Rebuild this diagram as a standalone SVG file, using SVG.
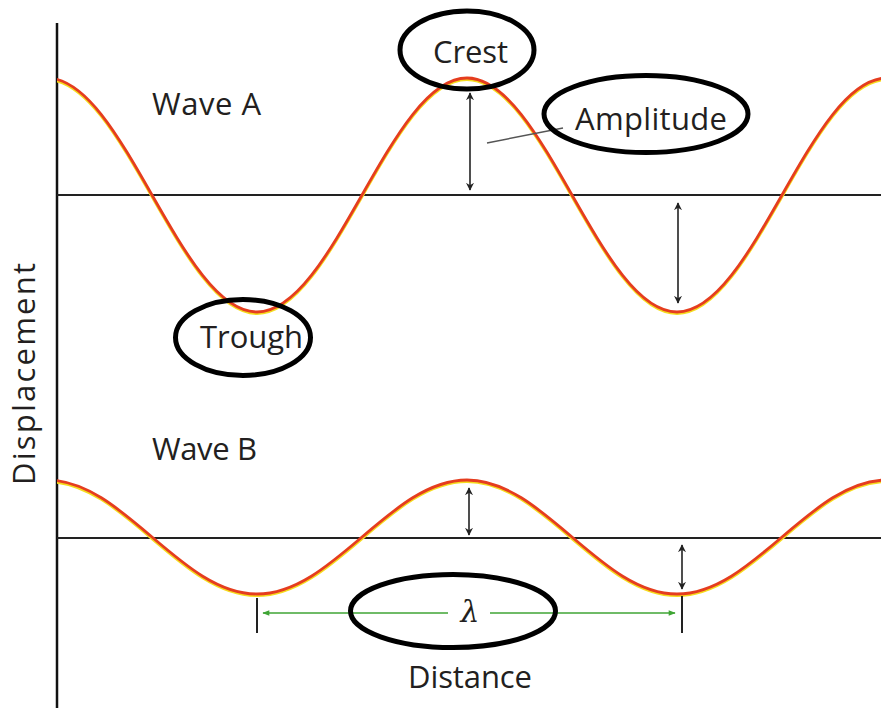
<svg xmlns="http://www.w3.org/2000/svg" width="881" height="708" viewBox="0 0 881 708">
  <style>
    .lbl { font-family: "Open Sans", "Noto Sans", "Liberation Sans", sans-serif; font-size: 31px; fill: #231f20; lengthAdjust: spacing; }
    .base { stroke: #222; stroke-width: 2; fill: none; }
    .wave-y { stroke: #f5dc1e; stroke-width: 3; fill: none; }
    .wave-r { stroke: #e53d1f; stroke-width: 2.8; fill: none; }
    .amp { stroke: #222; stroke-width: 1.6; fill: none; marker-start: url(#ah); marker-end: url(#ah); }
    .ring { stroke: #000; stroke-width: 5; fill: none; }
    .grn { stroke: #3fa535; stroke-width: 1.6; fill: none; }
    .tick { stroke: #222; stroke-width: 2; }
  </style>
  <defs>
    <marker id="ah" viewBox="0 0 10 10" refX="9" refY="5" markerWidth="8" markerHeight="8" markerUnits="userSpaceOnUse" orient="auto-start-reverse">
      <path d="M0,0 L10,5 L0,10 L3,5 Z" fill="#222"/>
    </marker>
    <marker id="gh" viewBox="0 0 10 10" refX="9" refY="5" markerWidth="9" markerHeight="7" markerUnits="userSpaceOnUse" orient="auto-start-reverse">
      <path d="M0,1 L10,5 L0,9 Z" fill="#3fa535"/>
    </marker>
    <clipPath id="plot"><rect x="57" y="0" width="824" height="708"/></clipPath>
  </defs>
  <rect width="881" height="708" fill="#fff"/>

  <g id="axes">
    <line x1="57" y1="23" x2="57" y2="708" stroke="#111" stroke-width="2.5"/>
    <line class="base" x1="57" y1="195" x2="881" y2="195"/>
    <line class="base" x1="57" y1="538" x2="881" y2="538"/>
  </g>

  <g id="waveA" clip-path="url(#plot)">
    <path class="wave-y" transform="translate(0,1.5)" d="M47,78 C123.5,78 180.5,312 257,312 C333.5,312 390.5,78 467,78 C543.5,78 600.5,312 677,312 C753.5,312 810.5,78 887,78"/>
    <path class="wave-r" d="M47,78 C123.5,78 180.5,312 257,312 C333.5,312 390.5,78 467,78 C543.5,78 600.5,312 677,312 C753.5,312 810.5,78 887,78"/>
  </g>
  <g id="waveB" clip-path="url(#plot)">
    <path class="wave-y" transform="translate(0,1.5)" d="M47,480 C123.5,480 180.5,594 257,594 C333.5,594 390.5,480 467,480 C543.5,480 600.5,594 677,594 C753.5,594 810.5,480 887,480"/>
    <path class="wave-r" d="M47,480 C123.5,480 180.5,594 257,594 C333.5,594 390.5,480 467,480 C543.5,480 600.5,594 677,594 C753.5,594 810.5,480 887,480"/>
  </g>

  <g id="connectors">
    <line class="amp" x1="470" y1="93" x2="470" y2="190"/>
    <line class="amp" x1="678" y1="203" x2="678" y2="303"/>
    <line class="amp" x1="469" y1="488" x2="469" y2="535"/>
    <line class="amp" x1="682" y1="545" x2="682" y2="589"/>
    <line x1="487" y1="143" x2="563" y2="128" stroke="#555" stroke-width="1.5"/>
    <line class="grn" x1="263" y1="613" x2="448" y2="613" marker-start="url(#gh)"/>
    <line class="grn" x1="490" y1="613" x2="675" y2="613" marker-end="url(#gh)"/>
    <line class="tick" x1="257" y1="598" x2="257" y2="633"/>
    <line class="tick" x1="682" y1="596" x2="682" y2="633"/>
  </g>

  <g id="label-waveA"><text class="lbl" x="152" y="115" textLength="109" lengthAdjust="spacing">Wave A</text></g>
  <g id="label-waveB"><text class="lbl" x="152" y="460" textLength="105" lengthAdjust="spacing">Wave B</text></g>
  <g id="label-crest">
    <ellipse class="ring" cx="467" cy="50" rx="67" ry="39"/>
    <text class="lbl" x="433" y="63" textLength="75" lengthAdjust="spacing">Crest</text>
  </g>
  <g id="label-amplitude">
    <ellipse class="ring" cx="646" cy="114" rx="102" ry="38.5"/>
    <text class="lbl" x="575" y="130" textLength="152" lengthAdjust="spacing">Amplitude</text>
  </g>
  <g id="label-trough">
    <ellipse class="ring" cx="243" cy="337.5" rx="67.5" ry="38"/>
    <text class="lbl" x="200" y="348" textLength="103" lengthAdjust="spacing">Trough</text>
  </g>
  <g id="label-lambda">
    <ellipse class="ring" cx="453" cy="611" rx="102.5" ry="36.5"/>
    <text x="470" y="622" text-anchor="middle" font-family="'DejaVu Serif', 'Liberation Serif', serif" font-style="italic" font-size="30" fill="#231f20">λ</text>
  </g>
  <g id="label-distance"><text class="lbl" x="408" y="688" textLength="124" lengthAdjust="spacing">Distance</text></g>
  <g id="label-displacement"><text class="lbl" transform="translate(35,485) rotate(-90)" x="0" y="0" textLength="222" lengthAdjust="spacing">Displacement</text></g>
</svg>
